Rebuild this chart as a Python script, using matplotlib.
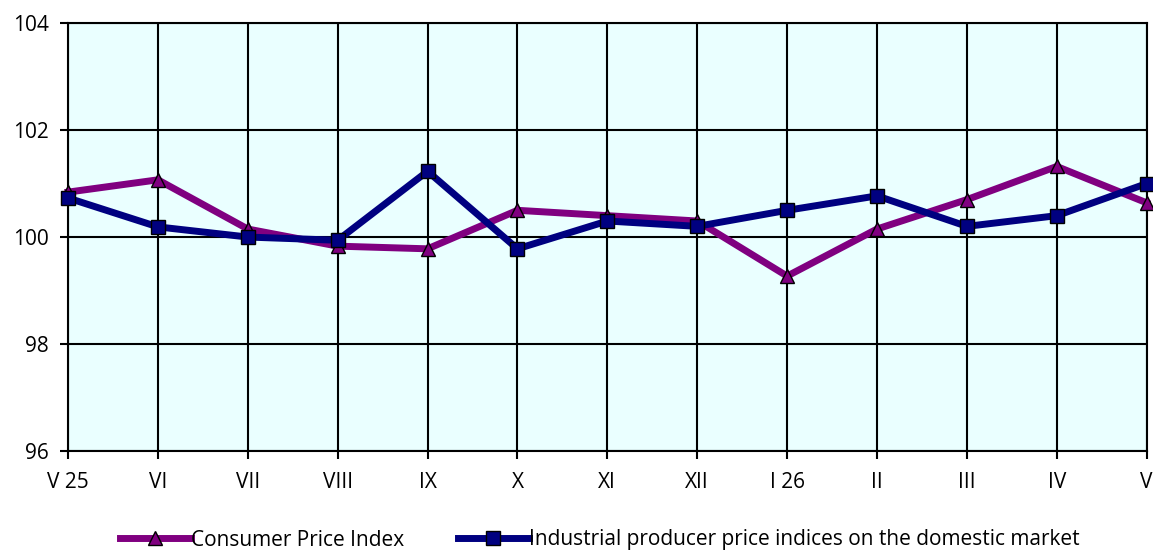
import matplotlib.pyplot as plt

months = ['V 25', 'VI', 'VII', 'VIII', 'IX', 'X', 'XI', 'XII', 'I 26', 'II', 'III', 'IV', 'V']
cpi = [100.84, 101.07, 100.15, 99.83, 99.78, 100.5, 100.4, 100.3, 99.27, 100.15, 100.7, 101.32, 100.64]
ppi = [100.73, 100.19, 100.0, 99.94, 101.23, 99.78, 100.3, 100.2, 100.5, 100.77, 100.2, 100.4, 101.0]

plt.rcParams['font.family'] = ['Open Sans', 'DejaVu Sans']

fig = plt.figure(figsize=(11.53, 5.5), dpi=100)
ax = fig.add_axes([0.059, 0.18, 0.9355, 0.778])
ax.set_facecolor('#EAFFFF')

x = range(len(months))
ax.plot(x, cpi, color='#800080', linewidth=5, marker='^', markersize=10,
        markerfacecolor='#800080', markeredgecolor='black', markeredgewidth=1,
        label='Consumer Price Index', zorder=3, clip_on=False)
ax.plot(x, ppi, color='#000080', linewidth=5, marker='s', markersize=10,
        markerfacecolor='#000080', markeredgecolor='black', markeredgewidth=1,
        label='Industrial producer price indices on the domestic market', zorder=4, clip_on=False)

ax.set_xlim(0, 12)
ax.set_ylim(96, 104)
ax.set_yticks([96, 98, 100, 102, 104])
ax.set_xticks(list(x))
ax.set_xticklabels(months)
ax.grid(True, color='black', linewidth=1.5)
for s in ax.spines.values():
    s.set_linewidth(1.5)
ax.tick_params(axis='both', labelsize=15, width=1.5, length=6, color='black')
ax.tick_params(axis='x', pad=9)
ax.tick_params(axis='y', pad=8)

fig.legend(loc='lower center', bbox_to_anchor=(0.52, -0.035), ncol=2, frameon=False,
           fontsize=15, handlelength=3.4, handletextpad=0.0, columnspacing=2.6)

fig.savefig('out.png', dpi=100)
